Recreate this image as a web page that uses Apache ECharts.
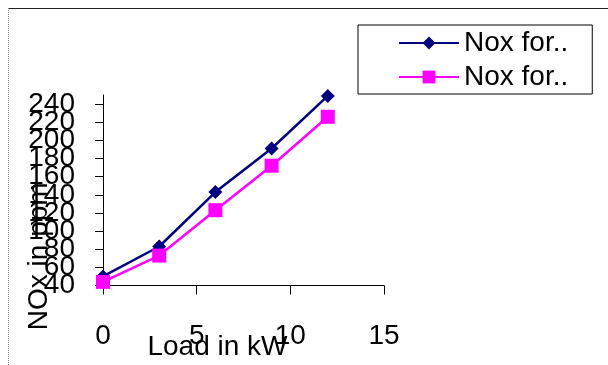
<!DOCTYPE html>
<html>
<head>
<meta charset="utf-8">
<script src="https://cdn.jsdelivr.net/npm/echarts@6/dist/echarts.min.js"></script>
<style>
html,body{margin:0;padding:0;background:#fff;}
#c{width:608px;height:365px;}
</style>
</head>
<body>
<div id="c"></div>
<script>
var loads = [0, 3, 6, 9, 12];
var seriesNames = ['Nox for.. (1)', 'Nox for.. (2)'];
var legendLabels = ['Nox for..', 'Nox for..'];
var noxA = [50, 83, 143, 191, 249];
var noxB = [44, 73, 123, 172, 226];
var yTickLabels = [40, 60, 80, 100, 120, 140, 160, 180, 200, 220, 240];
var xTickLabels = [0, 5, 10, 15];

var FONT = 'Liberation Sans';
var FS = 28;
var chart = echarts.init(document.getElementById('c'));
function pairs(xs, ys){ return xs.map(function(x,i){ return [x, ys[i]]; }); }
// the labels overlap in the original; split them over two coincident axes so none get auto-hidden
var yLabelsEven = yTickLabels.filter(function(v, i){ return i % 2 === 0; });
var yLabelsOdd = yTickLabels.filter(function(v, i){ return i % 2 === 1; });

var yBase = {
  type: 'value', min: 40, max: 250, interval: 20, position: 'left', offset: 0,
  splitLine: {show: false}
};

chart.setOption({
  backgroundColor: '#fff',
  animation: false,
  textStyle: {fontFamily: FONT},
  graphic: [
    {type:'line', shape:{x1:8,y1:8.5,x2:608,y2:8.5}, style:{stroke:'#222', lineWidth:1}},
    {type:'line', shape:{x1:8.5,y1:8,x2:8.5,y2:365}, style:{stroke:'#888', lineWidth:1, lineDash:[1,1]}}
  ],
  grid: {left: 103, right: 224, top: 95, bottom: 79.5, outerBoundsMode: 'none', containLabel: false},
  legend: {
    left: 358, top: 25,
    orient: 'vertical',
    align: 'left',
    padding: [4, 24, 3, 40],
    itemGap: 6,
    itemWidth: 60, itemHeight: 16,
    borderColor: '#000', borderWidth: 1,
    backgroundColor: '#fff',
    formatter: function(name){ return legendLabels[seriesNames.indexOf(name)]; },
    textStyle: {fontSize: FS, color: '#000', fontFamily: FONT, lineHeight: 28},
    data: seriesNames
  },
  xAxis: {
    type: 'value', min: 0, max: 15, interval: 5,
    name: 'Load in kW', nameLocation: 'middle', nameGap: 48, nameMoveOverlap: false,
    nameTextStyle: {fontSize: FS, color: '#000', fontFamily: FONT, padding: [0, 52, 0, 0]},
    axisLine: {lineStyle: {color: '#000', width: 1}},
    axisTick: {show: true, length: 9, lineStyle: {color: '#000'}, customValues: xTickLabels},
    axisLabel: {fontSize: FS, color: '#000', margin: 37, customValues: xTickLabels, hideOverlap: false},
    splitLine: {show: false}
  },
  yAxis: [
    Object.assign({}, yBase, {
      name: 'NOx in ppm', nameLocation: 'middle', nameGap: 50, nameMoveOverlap: false,
      nameTextStyle: {fontSize: FS, color: '#000', fontFamily: FONT, padding: [0, 132, 0, 0]},
      axisLine: {show: true, lineStyle: {color: '#000', width: 1}},
      axisTick: {show: true, length: 8, lineStyle: {color: '#000'}, customValues: yTickLabels},
      axisLabel: {fontSize: FS, color: '#000', margin: 28, customValues: yLabelsEven,
                  hideOverlap: false, showMinLabel: true, showMaxLabel: true}
    }),
    Object.assign({}, yBase, {
      axisLine: {show: false},
      axisTick: {show: false},
      axisLabel: {fontSize: FS, color: '#000', margin: 28, customValues: yLabelsOdd,
                  hideOverlap: false, showMinLabel: true, showMaxLabel: true}
    })
  ],
  series: [
    {name: seriesNames[0], type: 'line', data: pairs(loads, noxA),
     symbol: 'diamond', symbolSize: 14,
     lineStyle: {color: '#000080', width: 2.5},
     itemStyle: {color: '#000080'}},
    {name: seriesNames[1], type: 'line', data: pairs(loads, noxB),
     symbol: 'rect', symbolSize: 14,
     lineStyle: {color: '#FF00FF', width: 2.5},
     itemStyle: {color: '#FF00FF'}}
  ]
});
</script>
</body>
</html>
